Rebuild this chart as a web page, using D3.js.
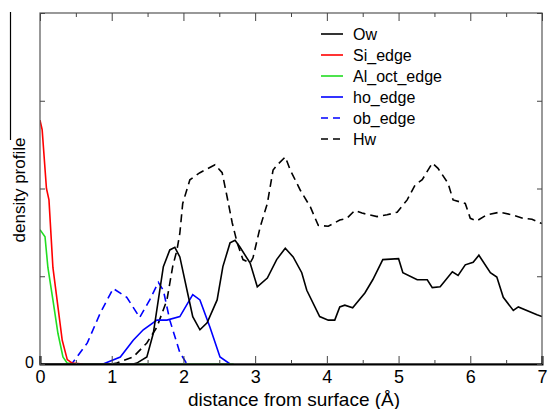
<!DOCTYPE html>
<html>
<head>
<meta charset="utf-8">
<script src="https://cdn.jsdelivr.net/npm/d3@7"></script>
<style>
  body { margin: 0; background: #fff; }
  text { font-family: "Liberation Sans", Arial, sans-serif; }
</style>
</head>
<body>
<div id="svg_container"></div>
<script>
// density profiles, [distance, density]
const ow = [[0,0],[1.30,0],[1.35,0.01],[1.49,0.08],[1.58,0.35],[1.67,0.84],[1.72,1.11],[1.81,1.30],[1.88,1.33],
  [1.95,1.22],[2.05,0.84],[2.13,0.54],[2.23,0.39],[2.33,0.47],[2.47,0.73],[2.55,1.11],[2.65,1.38],
  [2.72,1.41],[2.79,1.33],[2.93,1.15],[3.03,0.88],[3.17,0.98],[3.30,1.19],[3.42,1.32],[3.53,1.22],
  [3.65,1.04],[3.72,0.84],[3.90,0.54],[4.02,0.50],[4.11,0.50],[4.18,0.65],[4.25,0.67],[4.36,0.64],
  [4.53,0.81],[4.64,0.96],[4.78,1.19],[5.00,1.20],[5.06,1.04],[5.26,0.96],[5.40,0.96],[5.47,0.87],
  [5.58,0.88],[5.75,1.05],[5.83,1.01],[5.93,1.13],[6.04,1.16],[6.12,1.24],[6.28,1.04],[6.37,0.99],
  [6.46,0.76],[6.60,0.61],[6.67,0.65],[6.93,0.56],[7.00,0.54]];
const siEdge = [[0,2.78],[0.03,2.67],[0.09,2.0],[0.125,1.87],[0.18,1.1],[0.31,0.27],[0.38,0.05],[0.45,0.01],[0.6,0]];
const alOctEdge = [[0,1.53],[0.07,1.45],[0.11,1.1],[0.18,0.73],[0.25,0.35],[0.32,0.08],[0.38,0.01],[0.5,0],[2.7,0]];
const hoEdge = [[0.88,0],[1.12,0.08],[1.30,0.27],[1.44,0.39],[1.63,0.5],[1.77,0.5],[1.95,0.54],[2.13,0.79],
  [2.23,0.73],[2.37,0.42],[2.51,0.08],[2.65,0]];
const obEdge = [[0.40,0],[0.45,0.01],[0.66,0.24],[0.84,0.58],[1.02,0.86],[1.21,0.76],[1.39,0.53],[1.53,0.73],
  [1.65,0.93],[1.72,0.84],[1.81,0.50],[1.95,0.13],[2.05,0]];
const hw = [[1.0,0],[1.07,0.01],[1.30,0.08],[1.49,0.24],[1.63,0.42],[1.77,0.73],[1.85,1.11],[1.91,1.30],[1.95,1.49],
  [1.99,1.83],[2.09,2.10],[2.23,2.18],[2.44,2.27],[2.54,2.18],[2.61,1.90],[2.68,1.61],[2.75,1.38],
  [2.83,1.19],[2.93,1.15],[2.97,1.21],[3.07,1.56],[3.17,1.83],[3.25,2.21],[3.31,2.27],[3.42,2.36],
  [3.49,2.21],[3.63,1.98],[3.77,1.79],[3.88,1.58],[4.02,1.57],[4.18,1.64],[4.28,1.66],[4.39,1.75],
  [4.49,1.72],[4.70,1.68],[4.84,1.70],[4.98,1.73],[5.12,1.87],[5.23,2.04],[5.33,2.10],[5.47,2.29],
  [5.55,2.23],[5.69,2.06],[5.76,1.87],[5.93,1.83],[6.00,1.66],[6.09,1.63],[6.23,1.70],[6.41,1.73],
  [6.58,1.70],[6.74,1.66],[6.86,1.65],[6.97,1.61],[7.00,1.60]];

const xTicks = [0, 1, 2, 3, 4, 5, 6, 7];
const xMinorTicks = [0.5, 1.5, 2.5, 3.5, 4.5, 5.5, 6.5];
const yTicks = [0, 1, 2, 3, 4];
const yTickLabels = ["0", "", "", "", ""];

const series = [
  { name: "Ow", data: ow, color: "#000", dash: null },
  { name: "Si_edge", data: siEdge, color: "#ff0000", dash: null },
  { name: "Al_oct_edge", data: alOctEdge, color: "#22dd22", dash: null },
  { name: "ho_edge", data: hoEdge, color: "#0000ff", dash: null },
  { name: "ob_edge", data: obEdge, color: "#0000ff", dash: "8,5" },
  { name: "Hw", data: hw, color: "#000", dash: "8,5" }
];

const margin = { top: 13, right: 6, bottom: 45, left: 40 },
    width = 548 - margin.left - margin.right,
    height = 409 - margin.top - margin.bottom;

const svg = d3.select("#svg_container")
    .append("svg")
    .attr("width", 548)
    .attr("height", 409);

const g = svg.append("g")
    .attr("transform", `translate(${margin.left}, ${margin.top})`);

const x = d3.scaleLinear().domain([0, 7]).range([0, width]);
const y = d3.scaleLinear().domain([0, 4]).range([height, 0]);

// clip so lines stay inside the frame
g.append("clipPath").attr("id", "clip")
    .append("rect").attr("width", width).attr("height", height);

const line = d3.line()
    .x(d => x(d[0]))
    .y(d => y(d[1]));

const plot = g.append("g").attr("clip-path", "url(#clip)");
series.slice().reverse().forEach(s => {
    plot.append("path")
        .datum(s.data)
        .attr("fill", "none")
        .attr("stroke", s.color)
        .attr("stroke-width", 1.6)
        .attr("stroke-dasharray", s.dash)
        .attr("d", line);
});

// frame
g.append("rect")
    .attr("width", width).attr("height", height)
    .attr("fill", "none").attr("stroke", "#555").attr("stroke-width", 1.2);

// bottom axis, ticks pointing inward
const xAxis = g.append("g")
    .attr("transform", "translate(0," + height + ")")
    .call(d3.axisBottom(x).tickValues(xTicks).tickSize(-8).tickPadding(6).tickFormat(d3.format("d")));
xAxis.select(".domain").attr("stroke", "#000").attr("stroke-width", 2);
xAxis.selectAll("text").attr("font-size", 18).attr("fill", "#000");
xAxis.selectAll(".tick line").attr("stroke", "#444");
g.append("g")
    .attr("transform", "translate(0," + height + ")")
    .call(d3.axisBottom(x).tickValues(xMinorTicks).tickSize(-4).tickFormat(""))
    .call(a => a.select(".domain").remove())
    .selectAll("line").attr("stroke", "#444");

// top mirror ticks
g.append("g")
    .call(d3.axisTop(x).tickValues(xTicks).tickSize(-8).tickFormat(""))
    .call(a => a.select(".domain").remove())
    .selectAll("line").attr("stroke", "#444");
g.append("g")
    .call(d3.axisTop(x).tickValues(xMinorTicks).tickSize(-4).tickFormat(""))
    .call(a => a.select(".domain").remove())
    .selectAll("line").attr("stroke", "#444");

// left and right ticks
const yAxis = g.append("g")
    .call(d3.axisLeft(y).tickValues(yTicks).tickSize(-5).tickPadding(6).tickFormat((d, i) => yTickLabels[i]));
yAxis.select(".domain").remove();
yAxis.selectAll("line").attr("stroke", "#444");
yAxis.selectAll("text").attr("font-size", 16).attr("fill", "#000").attr("dy", "0.2em");
g.append("g")
    .attr("transform", "translate(" + width + ",0)")
    .call(d3.axisRight(y).tickValues(yTicks).tickSize(-5).tickFormat(""))
    .call(a => a.select(".domain").remove())
    .selectAll("line").attr("stroke", "#444");

// axis titles
svg.append("text")
    .attr("x", 294)
    .attr("y", 406)
    .attr("text-anchor", "middle")
    .attr("font-size", 19)
    .text("distance from surface (Å)");
svg.append("text")
    .attr("transform", "translate(25," + 190 + ") rotate(-90)")
    .attr("text-anchor", "middle")
    .attr("font-size", 17)
    .text("density profile");
svg.append("line")
    .attr("x1", 10.5).attr("x2", 10.5)
    .attr("y1", 12).attr("y2", 140)
    .attr("stroke", "#000").attr("stroke-width", 1.2);

// legend
const legend = svg.append("g").attr("transform", "translate(321, 34)");
series.forEach((s, i) => {
    const row = legend.append("g").attr("transform", `translate(0, ${i * 21})`);
    row.append("line")
        .attr("x1", 0).attr("x2", 22)
        .attr("stroke", s.color)
        .attr("stroke-width", 1.6)
        .attr("stroke-dasharray", s.dash ? "7,5" : null);
    row.append("text")
        .attr("x", 32)
        .attr("dy", "0.36em")
        .attr("font-size", 16)
        .text(s.name);
});
</script>
</body>
</html>
